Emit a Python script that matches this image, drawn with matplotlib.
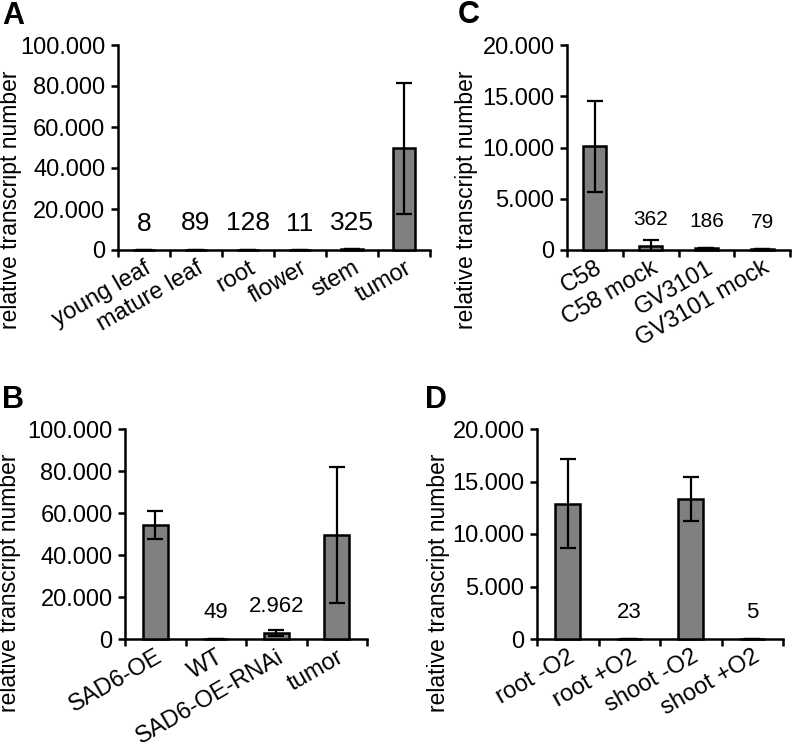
import numpy as np
import matplotlib.pyplot as plt
from matplotlib.ticker import FuncFormatter, FixedLocator

plt.rcParams['font.family'] = ['Liberation Sans', 'DejaVu Sans']

# panel A: tissues
a_cats = ["young leaf", "mature leaf", "root", "flower", "stem", "tumor"]
a_vals = [8, 89, 128, 11, 325, 49700]
a_errs = [60, 60, 60, 60, 60, 32000]
a_labels = ["8", "89", "128", "11", "325", ""]

# panel B: lines
b_cats = ["SAD6-OE", "WT", "SAD6-OE-RNAi", "tumor"]
b_vals = [54300, 49, 2962, 49500]
b_errs = [6500, 100, 1400, 32200]
b_labels = ["", "49", "2.962", ""]

# panel C: strains
c_cats = ["C58", "C58 mock", "GV3101", "GV3101 mock"]
c_vals = [10100, 362, 186, 79]
c_errs = [4450, 620, 20, 20]
c_labels = ["", "362", "186", "79"]

# panel D: oxygen
d_cats = ["root -O2", "root +O2", "shoot -O2", "shoot +O2"]
d_vals = [12900, 23, 13300, 5]
d_errs = [4250, 10, 2100, 5]
d_labels = ["", "23", "", "5"]

W, H = 793, 751


def dots(x, pos):
    return f"{x:,.0f}".replace(",", ".")


def panel(rect, cats, vals, errs, labels, ymax, lab_fs, width):
    ax = fig.add_axes(rect)
    x = np.arange(len(cats))
    bars = ax.bar(x, vals, width=width, color='#808080', edgecolor='black', linewidth=1.8, zorder=3)
    for b in bars:
        b.set_clip_on(False)
    ax.errorbar(x, vals, yerr=errs, fmt='none', ecolor='black', elinewidth=1.6,
                capsize=5.5, capthick=1.6, zorder=4)
    for xi, v, lab in zip(x, vals, labels):
        if lab:
            ax.annotate(lab, (xi, v), xytext=(0, 19), textcoords='offset points',
                        ha='center', va='center', fontsize=lab_fs)
    ax.set_xlim(-0.5, len(cats) - 0.5)
    ax.set_ylim(0, ymax)
    ax.set_yticks(np.linspace(0, ymax, 5 if ymax == 20000 else 6))
    ax.yaxis.set_major_formatter(FuncFormatter(dots))
    ax.set_xticks(x)
    ax.set_xticklabels(cats, rotation=30, ha='right', va='top', rotation_mode='anchor')
    ax.xaxis.set_minor_locator(FixedLocator(np.arange(len(cats) + 1) - 0.5))
    ax.tick_params(axis='x', which='major', length=0, pad=5, labelsize=17)
    ax.tick_params(axis='x', which='minor', length=5, width=1.8, direction='out')
    ax.tick_params(axis='y', length=5, width=1.8, direction='out', pad=4, labelsize=17)
    for s in ['top', 'right']:
        ax.spines[s].set_visible(False)
    for s in ['left', 'bottom']:
        ax.spines[s].set_linewidth(1.8)
    return ax


fig = plt.figure(figsize=(W / 100, H / 100), dpi=100)

def rect(x0, x1, y0, y1):
    return [x0 / W, 1 - y1 / H, (x1 - x0) / W, (y1 - y0) / H]

panel(rect(118, 430, 45, 250), a_cats, a_vals, a_errs, a_labels, 100000, 19, 0.44)
panel(rect(567, 790, 45, 250), c_cats, c_vals, c_errs, c_labels, 20000, 15, 0.41)
panel(rect(125, 367, 429, 639), b_cats, b_vals, b_errs, b_labels, 100000, 16, 0.41)
panel(rect(537, 783, 429, 639), d_cats, d_vals, d_errs, d_labels, 20000, 16, 0.41)

ylab = "relative transcript number"
for xp, yp in [(11, 200), (467, 200), (10, 583), (439, 583)]:
    fig.text(xp / W, 1 - yp / H, ylab, rotation=90, ha='center', va='center', fontsize=16.5)

for lab, xp, yp in [("A", 2, 16), ("C", 458, 15), ("B", 2, 400), ("D", 425, 400)]:
    fig.text(xp / W, 1 - yp / H, lab, ha='left', va='center', fontsize=22, fontweight='bold')

fig.savefig("out.png", dpi=100)
